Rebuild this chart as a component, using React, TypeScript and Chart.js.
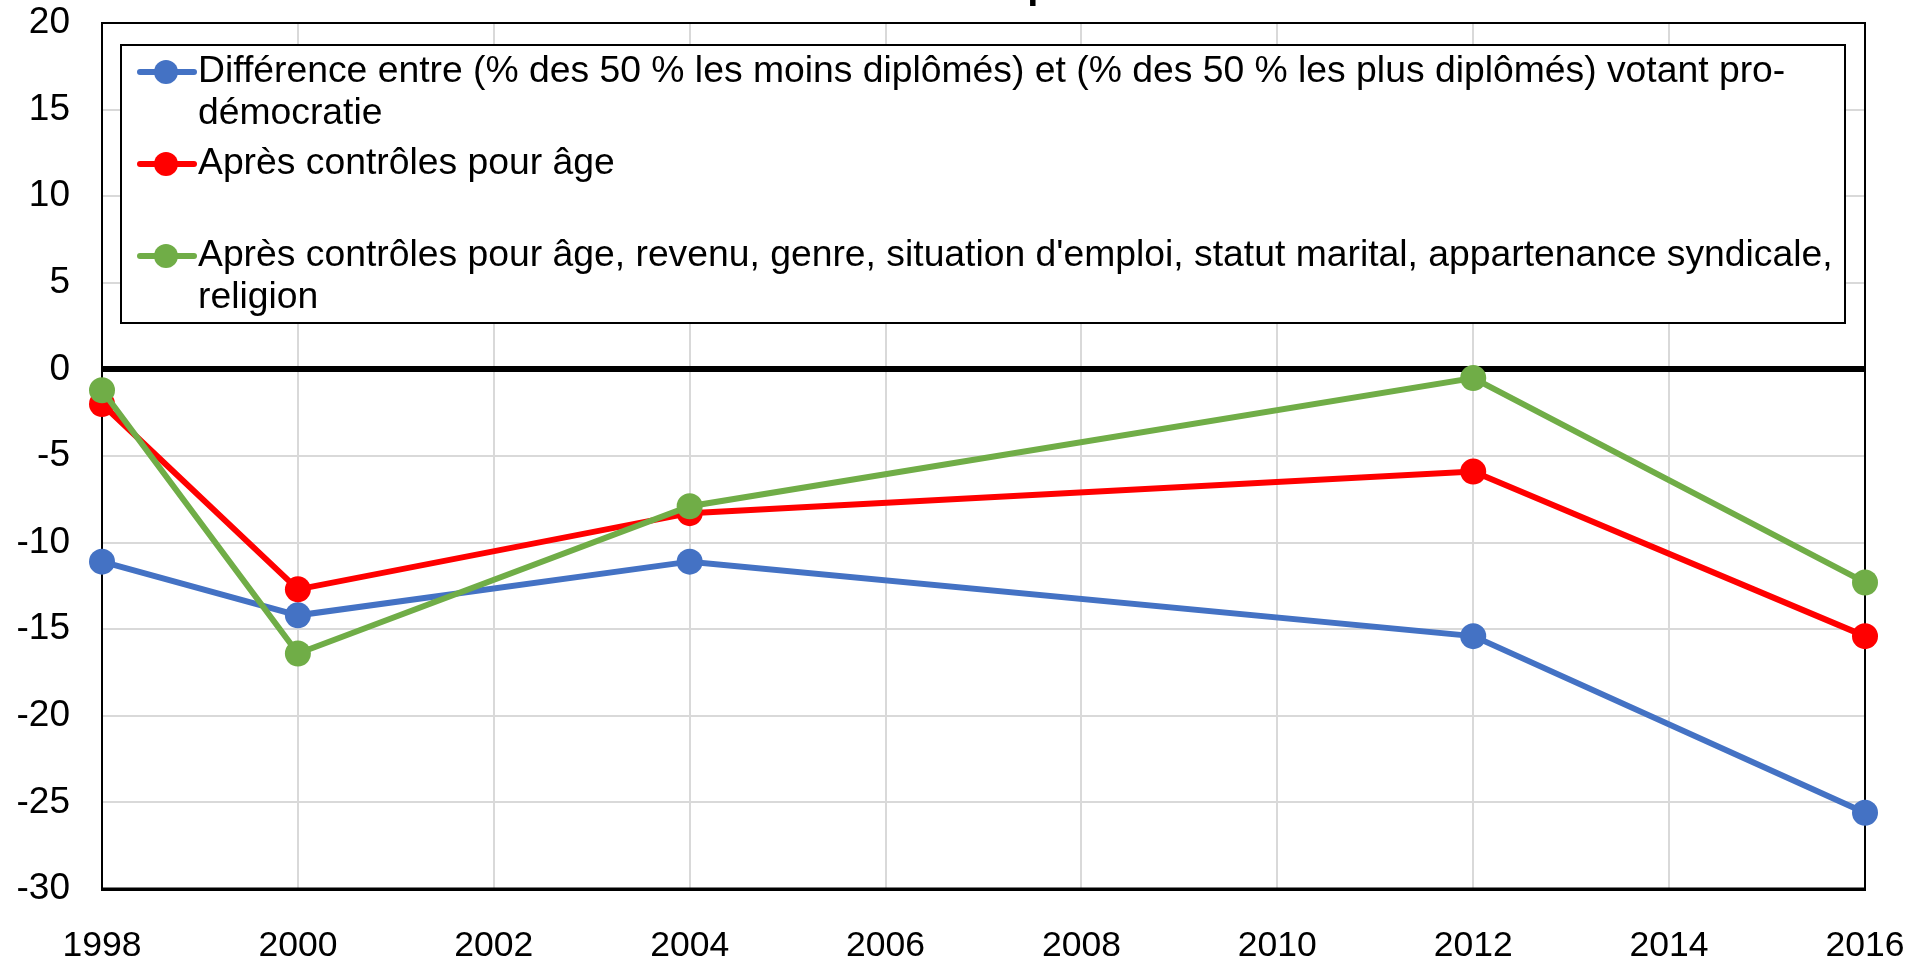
import { useEffect, useRef } from "react";
import { Chart, registerables } from "chart.js";

Chart.register(...registerables);

const years = [1998, 2000, 2004, 2012, 2016];
const diffValues = [-11.1, -14.2, -11.1, -15.4, -25.6];
const ageValues = [-2.0, -12.7, -8.3, -5.9, -15.4];
const fullControlValues = [-1.2, -16.4, -7.9, -0.5, -12.3];

const seriesLabels = [
  "Différence entre (% des 50 % les moins diplômés) et (% des 50 % les plus diplômés) votant pro-démocratie",
  "Après contrôles pour âge",
  "Après contrôles pour âge, revenu, genre, situation d'emploi, statut marital, appartenance syndicale, religion",
];
const legendLines = [
  ["Différence entre (% des 50 % les moins diplômés) et (% des 50 % les plus diplômés) votant pro-", "démocratie"],
  ["Après contrôles pour âge"],
  ["Après contrôles pour âge, revenu, genre, situation d'emploi, statut marital, appartenance syndicale,", "religion"],
];
const seriesColors = ["#4472C4", "#FF0000", "#70AD47"];
const titleText = "Vote des diplômés";

const FONT = "'Liberation Sans', Arial, sans-serif";

const toPoints = (vals: number[]) => vals.map((v, i) => ({ x: years[i], y: v }));

const framePlugin = {
  id: "frame",
  beforeDatasetsDraw(chart: any) {
    const { ctx, chartArea } = chart;
    ctx.save();
    ctx.strokeStyle = "#000";
    ctx.lineWidth = 2;
    ctx.strokeRect(chartArea.left, chartArea.top, chartArea.right - chartArea.left, chartArea.bottom - chartArea.top);
    ctx.lineWidth = 3;
    ctx.beginPath();
    ctx.moveTo(chartArea.left, chartArea.bottom);
    ctx.lineTo(chartArea.right, chartArea.bottom);
    ctx.stroke();
    ctx.restore();
  },
};

const legendPlugin = {
  id: "boxLegend",
  afterDraw(chart: any) {
    const { ctx } = chart;
    ctx.save();
    const bx = 121, by = 45, bw = 1724, bh = 278;
    ctx.fillStyle = "#fff";
    ctx.fillRect(bx, by, bw, bh);
    ctx.strokeStyle = "#000";
    ctx.lineWidth = 2;
    ctx.strokeRect(bx, by, bw, bh);
    ctx.font = `37.3px ${FONT}`;
    ctx.textBaseline = "middle";
    ctx.textAlign = "left";
    legendLines.forEach((lines, i) => {
      const y0 = 72 + 92 * i;
      const col = seriesColors[i];
      ctx.strokeStyle = col;
      ctx.lineWidth = 6;
      ctx.lineCap = "round";
      ctx.beginPath();
      ctx.moveTo(140, y0);
      ctx.lineTo(194, y0);
      ctx.stroke();
      ctx.fillStyle = col;
      ctx.beginPath();
      ctx.arc(166, y0, 12, 0, Math.PI * 2);
      ctx.fill();
      ctx.fillStyle = "#000";
      lines.forEach((ln, j) => {
        ctx.fillText(ln, 198, y0 + j * 41.5);
      });
    });
    ctx.restore();
  },
};

const titlePlugin = {
  id: "cutTitle",
  afterDraw(chart: any) {
    const { ctx } = chart;
    ctx.save();
    ctx.font = `bold 40px ${FONT}`;
    ctx.fillStyle = "#000";
    ctx.textAlign = "center";
    ctx.textBaseline = "alphabetic";
    ctx.fillText(titleText, 992, -2.5);
    ctx.restore();
  },
};

export default function App() {
  const ref = useRef<HTMLCanvasElement | null>(null);
  useEffect(() => {
    if (!ref.current) return;
    const order = [2, 1, 0];
    const values = [diffValues, ageValues, fullControlValues];
    const chart = new Chart(ref.current, {
      type: "line",
      data: {
        datasets: values.map((vals, i) => ({
          label: seriesLabels[i],
          data: toPoints(vals),
          borderColor: seriesColors[i],
          backgroundColor: seriesColors[i],
          borderWidth: 6,
          pointRadius: 13,
          pointBorderWidth: 0,
          pointBackgroundColor: seriesColors[i],
          tension: 0,
          clip: false,
          order: order[i],
        })),
      },
      options: {
        animation: false,
        responsive: false,
        events: [],
        layout: { padding: { top: 23, right: 59, left: 0, bottom: 0 } },
        plugins: { legend: { display: false }, tooltip: { enabled: false }, title: { display: false } },
        scales: {
          x: {
            type: "linear",
            min: 1998,
            max: 2016,
            ticks: {
              stepSize: 2,
              padding: 36,
              color: "#000",
              font: { family: FONT, size: 35.5 },
              callback: (v: any) => String(v),
              maxRotation: 0,
            },
            grid: { color: "#d9d9d9", lineWidth: 2, drawTicks: false },
            border: { color: "#000", width: 3 },
            afterFit: (s: any) => {
              s.height = 74;
              s.paddingLeft = 0;
              s.paddingRight = 0;
            },
          },
          y: {
            min: -30,
            max: 20,
            ticks: {
              stepSize: 5,
              padding: 32,
              color: "#000",
              font: { family: FONT, size: 37 },
            },
            grid: {
              color: (c: any) => (c.tick && c.tick.value === 0 ? "#000" : "#d9d9d9"),
              lineWidth: (c: any) => (c.tick && c.tick.value === 0 ? 6 : 2),
              drawTicks: false,
            },
            border: { color: "#000", width: 2 },
            afterFit: (s: any) => {
              s.width = 102;
              s.paddingTop = 0;
              s.paddingBottom = 0;
            },
          },
        },
      },
      plugins: [framePlugin, legendPlugin, titlePlugin],
    } as any);
    return () => chart.destroy();
  }, []);
  return (
    <div style={{ position: "absolute", left: 0, top: 0, width: 1924, height: 963, background: "#fff" }}>
      <canvas ref={ref} width={1924} height={963} style={{ display: "block" }} />
    </div>
  );
}
